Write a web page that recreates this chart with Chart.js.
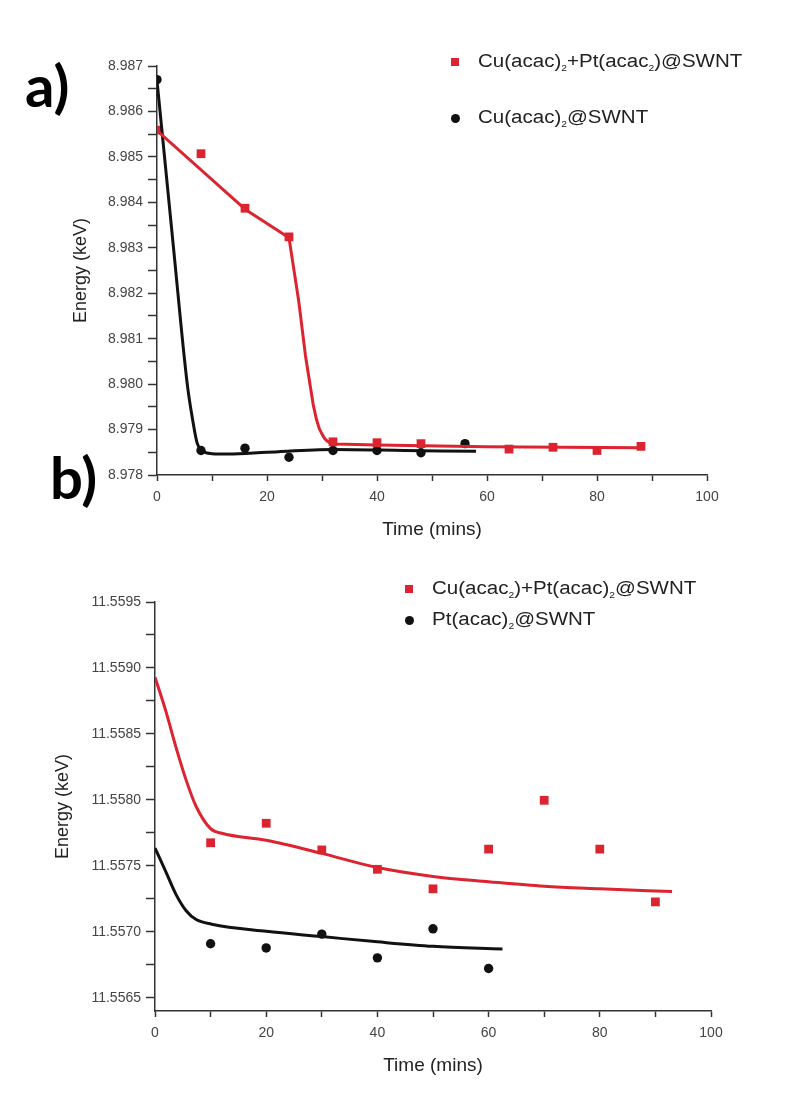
<!DOCTYPE html>
<html>
<head>
<meta charset="utf-8">
<script src="https://cdn.jsdelivr.net/npm/chart.js@4.4.1/dist/chart.umd.min.js"></script>
<style>
  body { margin: 0; background: #fff; width: 811px; height: 1095px; position: relative; overflow: hidden; }
  .box { position: absolute; left: 0; }
  .panel { position: absolute; font-family: Lato, "Open Sans", sans-serif; font-weight: bold; font-size: 58px; line-height: 58px; color: #000; }
  .leg { position: absolute; font-family: "Liberation Sans", Arial, sans-serif; font-size: 18px; color: #222; white-space: nowrap; line-height: 20px; transform: scaleX(1.14); transform-origin: 0 50%; }
  .leg sub { font-size: 9px; vertical-align: -4px; }
  .mk { position: absolute; }
</style>
</head>
<body>
<div class="box" style="top:0;width:811px;height:545px"><canvas id="chartA" width="811" height="545"></canvas></div>
<div class="box" style="top:540px;width:811px;height:555px"><canvas id="chartB" width="811" height="555"></canvas></div>
<div class="panel" style="left:25px;top:56px">a)</div>
<div class="panel" style="left:50px;top:448px">b)</div>
<div id="legA"></div>
<div id="legB"></div>
<script>
// ---- panel a: Cu K-edge ----
const namesA = ["Cu(acac)₂+Pt(acac₂)@SWNT", "Cu(acac)₂@SWNT"];
const timeCuPtA = [0, 8, 16, 24, 32, 40, 48, 64, 72, 80, 88];
const cuPtA = [8.98559, 8.98507, 8.98387, 8.98324, 8.97873, 8.97871, 8.97869, 8.97857, 8.97861, 8.97854, 8.97863];
const timeCuA = [0, 8, 16, 24, 32, 40, 48, 56];
const cuA = [8.98670, 8.97854, 8.97859, 8.97839, 8.97854, 8.97854, 8.97849, 8.97869];
// fitted curves
const fitTimeCuPtA = [0, 16, 24, 25.8, 27, 28.4, 29, 29.5, 30, 30.5, 31, 31.5, 32.5, 40, 60, 88];
const fitCuPtA = [8.98558, 8.98385, 8.98322, 8.98180, 8.98062, 8.97955, 8.97922, 8.97902, 8.97890, 8.97880, 8.97874, 8.97870, 8.97868, 8.97866, 8.97862, 8.97860];
const fitTimeCuA = [0, 3, 5.5, 6.5, 7.3, 8.2, 10, 13, 20, 32, 45, 58];
const fitCuA = [8.98668, 8.98300, 8.98000, 8.97920, 8.97870, 8.97853, 8.97847, 8.97846, 8.97850, 8.97856, 8.97854, 8.97852];
const yTicksA = [8.978, 8.9785, 8.979, 8.9795, 8.980, 8.9805, 8.981, 8.9815, 8.982, 8.9825, 8.983, 8.9835, 8.984, 8.9845, 8.985, 8.9855, 8.986, 8.9865, 8.987];
const yLabelsA = ["8.978", "", "8.979", "", "8.980", "", "8.981", "", "8.982", "", "8.983", "", "8.984", "", "8.985", "", "8.986", "", "8.987"];

// ---- panel b: Pt L3-edge ----
const namesB = ["Cu(acac₂)+Pt(acac)₂@SWNT", " Pt(acac)₂@SWNT"];
const timeCuPtB = [10, 20, 30, 40, 50, 60, 70, 80, 90];
const cuPtB = [11.557675, 11.557823, 11.557621, 11.557474, 11.557326, 11.557627, 11.557997, 11.557627, 11.557227];
const timePtB = [10, 20, 30, 40, 50, 60];
const ptB = [11.55691, 11.556878, 11.556983, 11.556803, 11.557023, 11.556722];
const fitTimeCuPtB = [0, 1.9, 3.7, 5.6, 7.4, 10, 12, 20, 30, 40, 50, 60, 70, 80, 93];
const fitCuPtB = [11.55893, 11.55868, 11.55841, 11.55815, 11.55795, 11.557782, 11.557747, 11.557694, 11.557595, 11.557487, 11.55742, 11.55738, 11.557345, 11.557326, 11.557305];
const fitTimePtB = [0, 1.9, 3.7, 5.6, 7.4, 10.2, 20, 30, 40, 50, 62.5];
const fitPtB = [11.557635, 11.55746, 11.55729, 11.55716, 11.557093, 11.557058, 11.557004, 11.556964, 11.556924, 11.55689, 11.55687];
const yTicksB = [11.5565, 11.55675, 11.557, 11.55725, 11.5575, 11.55775, 11.558, 11.55825, 11.5585, 11.55875, 11.559, 11.55925, 11.5595];
const yLabelsB = ["11.5565", "", "11.5570", "", "11.5575", "", "11.5580", "", "11.5585", "", "11.5590", "", "11.5595"];

const xTicks = [0, 10, 20, 30, 40, 50, 60, 70, 80, 90, 100];
const xLabels = ["0", "", "20", "", "40", "", "60", "", "80", "", "100"];

const RED = "#dc2430";
const BLACK = "#111111";

Chart.defaults.font.family = '"Liberation Sans", Arial, sans-serif';
Chart.defaults.color = "#444";

function pts(xs, ys) {
  return xs.map((x, i) => ({ x: x, y: ys[i] }));
}

function fitLine(xs, ys, color, smooth) {
  const ds = {
    data: pts(xs, ys), showLine: true, borderColor: color, borderWidth: 3,
    pointRadius: 0, fill: false, tension: 0, borderJoinStyle: "round"
  };
  if (smooth) ds.cubicInterpolationMode = "monotone";
  return ds;
}

function marks(label, xs, ys, color, style) {
  return {
    label: label, data: pts(xs, ys), showLine: false, pointStyle: style,
    pointRadius: style === "rect" ? 6.2 : 4.7, backgroundColor: color, borderColor: color, borderWidth: 0
  };
}

function makeChart(id, datasets, yMin, yMax, yTicks, yLabels, yWidth, pad) {
  const ctx = document.getElementById(id).getContext("2d");
  return new Chart(ctx, {
    type: "scatter",
    data: { datasets: datasets },
    options: {
      responsive: false,
      animation: false,
      devicePixelRatio: 1,
      layout: { padding: pad },
      plugins: { legend: { display: false }, tooltip: { enabled: false } },
      scales: {
        x: {
          type: "linear", min: 0, max: 100,
          afterBuildTicks: (s) => { s.ticks = xTicks.map(v => ({ value: v })); },
          afterFit: (s) => { s.height = 70; },
          ticks: { autoSkip: false, maxRotation: 0, padding: 8, font: { size: 14 }, color: "#444",
                   callback: (v, i) => xLabels[i] },
          grid: { drawOnChartArea: false, drawTicks: true, tickLength: 6, tickColor: "#333", tickWidth: 1.5 },
          border: { color: "#333", width: 1.5 },
          title: { display: true, text: "Time (mins)", font: { size: 19 }, color: "#222", padding: 4 }
        },
        y: {
          type: "linear", min: yMin, max: yMax,
          afterBuildTicks: (s) => { s.ticks = yTicks.map(v => ({ value: v })); },
          afterFit: (s) => { s.width = yWidth; },
          ticks: { autoSkip: false, padding: 5, font: { size: 14 }, color: "#444",
                   callback: (v, i) => yLabels[i] },
          grid: { drawOnChartArea: false, drawTicks: true, tickLength: 9, tickColor: "#333", tickWidth: 1.5 },
          border: { color: "#333", width: 1.5 },
          title: { display: true, text: "Energy (keV)", font: { size: 18 }, color: "#222", padding: 4 }
        }
      }
    }
  });
}

const chartA = makeChart("chartA", [
  fitLine(fitTimeCuPtA, fitCuPtA, RED, false),
  fitLine(fitTimeCuA, fitCuA, BLACK, true),
  marks(namesA[0], timeCuPtA, cuPtA, RED, "rect"),
  marks(namesA[1], timeCuA, cuA, BLACK, "circle")
], 8.978, 8.987, yTicksA, yLabelsA, 91, { top: 66, left: 66, right: 104, bottom: 0 });

const chartB = makeChart("chartB", [
  fitLine(fitTimeCuPtB, fitCuPtB, RED, true),
  fitLine(fitTimePtB, fitPtB, BLACK, true),
  marks(namesB[0], timeCuPtB, cuPtB, RED, "rect"),
  marks(namesB[1], timePtB, ptB, BLACK, "circle")
], 11.5564, 11.5595, yTicksB, yLabelsB, 107, { top: 62, left: 48, right: 100, bottom: 14 });

// legends built from the dataset labels
function legend(el, chart, items) {
  const sets = chart.data.datasets.filter(d => d.label);
  let html = "";
  sets.forEach((d, i) => {
    const it = items[i];
    const col = d.backgroundColor;
    const shape = d.pointStyle === "rect"
      ? `<div class="mk" style="left:${it.mx - 4}px;top:${it.y - 4}px;width:8px;height:8px;background:${col}"></div>`
      : `<div class="mk" style="left:${it.mx - 4.5}px;top:${it.y - 4.5}px;width:9px;height:9px;border-radius:50%;background:${col}"></div>`;
    const txt = d.label.replace(/₂/g, "<sub>2</sub>");
    html += shape + `<div class="leg" style="left:${it.tx}px;top:${it.y - 11}px">${txt}</div>`;
  });
  document.getElementById(el).innerHTML = html;
}
legend("legA", chartA, [{ mx: 455, tx: 478, y: 62 }, { mx: 455, tx: 478, y: 118 }]);
legend("legB", chartB, [{ mx: 409, tx: 432, y: 589 }, { mx: 409, tx: 432, y: 620 }]);
</script>
</body>
</html>
